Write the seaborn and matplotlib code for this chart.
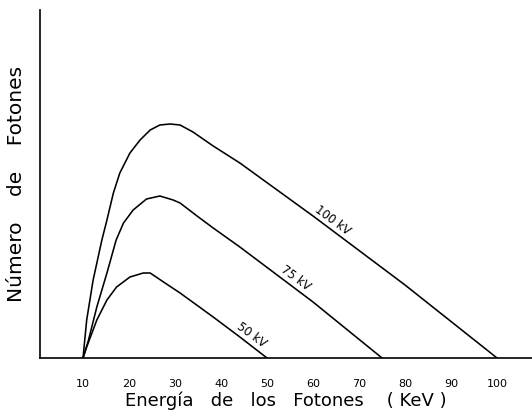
import numpy as np
import pandas as pd
import matplotlib
matplotlib.use("Agg")
import matplotlib.pyplot as plt
import seaborn as sns

# Photon energy (keV) and relative photon counts
e100 = [10, 10.8, 12.2, 14.1, 15.2, 16.6, 18.0, 20.2, 22.4, 24.6, 26.7, 28.9, 31.1, 33.9, 36.1, 38.3, 44.1, 60, 80, 100]
n100 = [0, 38, 78, 118, 138, 165, 185, 205, 218, 228, 233, 234, 233, 226, 219, 212, 195, 142, 73, 0]

e75 = [10, 11.2, 13.0, 15.2, 17.2, 18.8, 20.9, 23.8, 26.7, 29.6, 31.1, 34.5, 38.3, 44.1, 60, 75]
n75 = [0, 18, 51, 85, 118, 135, 148, 159, 162, 158, 155, 143, 130, 111, 56, 0]

e50 = [10, 10.8, 13.0, 15.2, 17.3, 20.2, 23.1, 24.6, 27.5, 31.1, 38.3, 44.1, 50]
n50 = [0, 11, 38, 58, 71, 81, 85, 85, 76, 65, 41, 21, 0]

series_labels = ["100 kV", "75 kV", "50 kV"]
label_pos_e = [64.3, 56.1, 46.7]
label_pos_n = [138, 80, 23]

xticks = [10, 20, 30, 40, 50, 60, 70, 80, 90, 100]

sns.set_style("white")
plt.rcParams["font.family"] = ["DejaVu Sans"]
plt.rcParams["text.color"] = "black"
plt.rcParams["axes.labelcolor"] = "black"
plt.rcParams["xtick.color"] = "black"

fig = plt.figure(figsize=(5.32, 4.17), dpi=100)
ax = fig.add_axes([40 / 532, (417 - 358) / 417, 1 - 40 / 532, (358 - 10) / 417])

frames = []
for lab, e, n in zip(series_labels, [e100, e75, e50], [n100, n75, n50]):
    frames.append(pd.DataFrame({"E": e, "N": n, "kv": lab}))
df = pd.concat(frames, ignore_index=True)

sns.lineplot(data=df, x="E", y="N", hue="kv", palette=["black"] * 3,
             legend=False, sort=False, linewidth=1.15, ax=ax, estimator=None)

ax.set_xlim(0.65, 107.6)
ax.set_ylim(0, 348)

for lab, xe, yn in zip(series_labels, label_pos_e, label_pos_n):
    ax.text(xe, yn, lab, rotation=-36.5, rotation_mode="anchor",
            ha="center", va="center", fontsize=8.5, color="black")

ax.set_xticks(xticks)
ax.set_xticklabels([str(t) for t in xticks], fontsize=8)
ax.set_yticks([])
ax.tick_params(axis="x", direction="out", length=5, width=1, color="black",
               labelcolor="black", pad=10)

for s in ["top", "right"]:
    ax.spines[s].set_visible(False)
for s in ["left", "bottom"]:
    ax.spines[s].set_color("black")
    ax.spines[s].set_linewidth(1.2)

ax.set_xlabel("Energía   de   los   Fotones    ( KeV )", fontsize=13, labelpad=2, color="black")
ax.set_ylabel("Número    de    Fotones", fontsize=14.5, labelpad=10, color="black")

fig.savefig("out.png", dpi=100)
